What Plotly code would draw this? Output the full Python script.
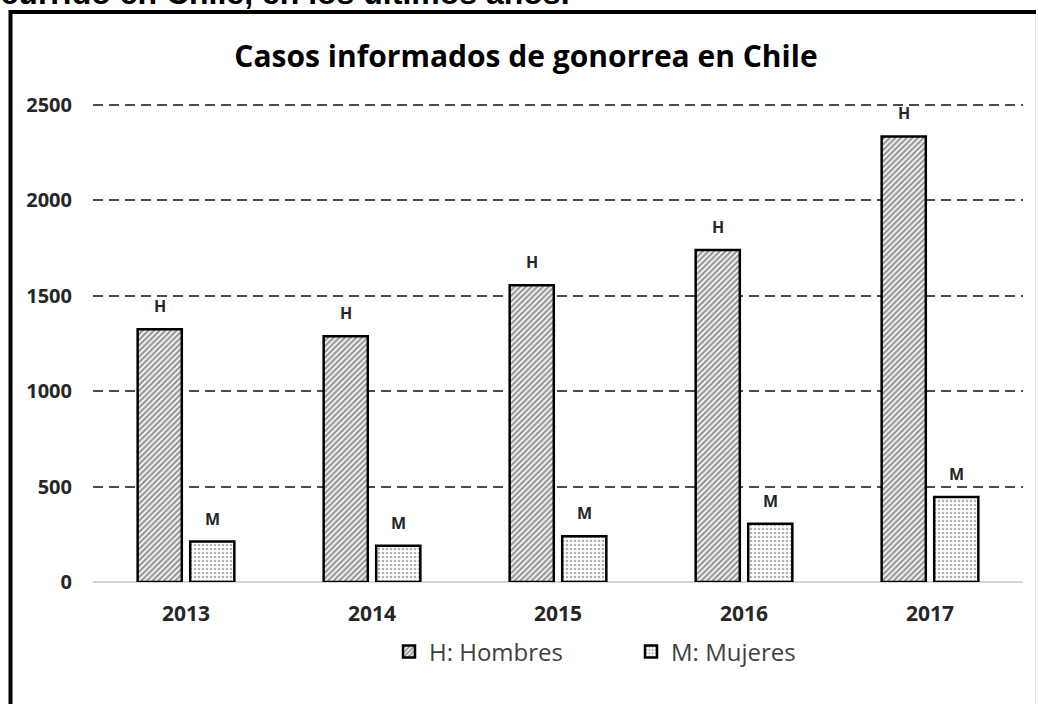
import plotly.graph_objects as go

years = ["2013", "2014", "2015", "2016", "2017"]
hombres = [1325, 1288, 1555, 1740, 2335]
mujeres = [212, 190, 240, 305, 445]
label_h = ["H", "H", "H", "H", "H"]
label_m = ["M", "M", "M", "M", "M"]
y_ticks = [0, 500, 1000, 1500, 2000, 2500]
y_max = 2510

W, H = 1038, 704
L, R, T, B = 93, 15, 103, 122
PW, PH = W - L - R, H - T - B

def px_x(p):
    return (p - L) / PW

def px_y(p):
    return (H - B - p) / PH

FONT = "Open Sans"

fig = go.Figure()
fig.add_trace(go.Bar(
    x=years, y=hombres, name="H: Hombres",
    marker=dict(color="white", line=dict(color="black", width=2.5),
                pattern=dict(shape="/", fgcolor="#333333", bgcolor="white",
                             size=4, solidity=0.6)),
))
fig.add_trace(go.Bar(
    x=years, y=mujeres, name="M: Mujeres",
    marker=dict(color="white", line=dict(color="black", width=2.5),
                pattern=dict(shape=".", fgcolor="#606060", bgcolor="white",
                             size=4, solidity=0.35)),
))

annotations = []
for i, (v, t) in enumerate(zip(hombres, label_h)):
    annotations.append(dict(x=i, y=v, text=t, showarrow=False, xshift=-26,
                            yanchor="bottom", yshift=10,
                            font=dict(family=FONT, size=16, color="#262626", weight="bold")))
for i, (v, t) in enumerate(zip(mujeres, label_m)):
    annotations.append(dict(x=i, y=v, text=t, showarrow=False, xshift=26,
                            yanchor="bottom", yshift=10,
                            font=dict(family=FONT, size=16, color="#262626", weight="bold")))

annotations.append(dict(
    xref="paper", yref="paper", x=px_x(-21), y=px_y(-7.5), xanchor="left", yanchor="middle",
    text="ocurrido en Chile, en los últimos años.", showarrow=False,
    font=dict(family="Liberation Sans", size=32, color="black", weight="bold")))

shapes = [
    dict(type="line", xref="paper", yref="paper", x0=px_x(9), x1=px_x(1036),
         y0=px_y(12), y1=px_y(12), line=dict(color="black", width=4)),
    dict(type="line", xref="paper", yref="paper", x0=px_x(10.5), x1=px_x(10.5),
         y0=px_y(10), y1=px_y(720), line=dict(color="black", width=4)),
    dict(type="line", xref="paper", yref="paper", x0=px_x(1035.5), x1=px_x(1035.5),
         y0=px_y(14), y1=px_y(720), line=dict(color="#e2e2e2", width=1)),
]

fig.update_layout(
    width=W, height=H,
    margin=dict(l=L, r=R, t=T, b=B, pad=0),
    paper_bgcolor="white", plot_bgcolor="white",
    barmode="group", bargap=0.435, bargroupgap=0.16,
    title=dict(text="Casos informados de gonorrea en Chile",
               xref="container", x=526 / W, xanchor="center",
               yref="container", y=1 - 56 / H, yanchor="middle",
               font=dict(family=FONT, size=30, color="black", weight="bold")),
    font=dict(family=FONT, color="#262626"),
    showlegend=True,
    legend=dict(orientation="h", x=px_x(389), xanchor="left", y=px_y(652), yanchor="middle",
                font=dict(family=FONT, size=24, color="#404040"),
                itemwidth=30, entrywidth=197, entrywidthmode="pixels", tracegroupgap=0),
    annotations=annotations,
    shapes=shapes,
)
fig.update_xaxes(
    type="category", range=[-0.5, len(years) - 0.5],
    showgrid=False, showline=False, zeroline=False,
    ticks="outside", ticklen=13, tickcolor="rgba(0,0,0,0)",
    tickfont=dict(family=FONT, size=21, color="#262626", weight="bold"),
)
fig.update_yaxes(
    range=[0, y_max], tickvals=y_ticks, showgrid=True, gridcolor="#4a4a4a", gridwidth=2,
    griddash="10px,6px", zeroline=True, zerolinecolor="#d4d4d4", zerolinewidth=2,
    showline=False, ticks="outside", ticklen=16, tickcolor="rgba(0,0,0,0)",
    tickfont=dict(family=FONT, size=20, color="#262626", weight="bold"),
)

fig.write_html("out.html",
               config={"displayModeBar": False},
               post_script="document.body.style.margin='0px';document.body.style.padding='0px';")
